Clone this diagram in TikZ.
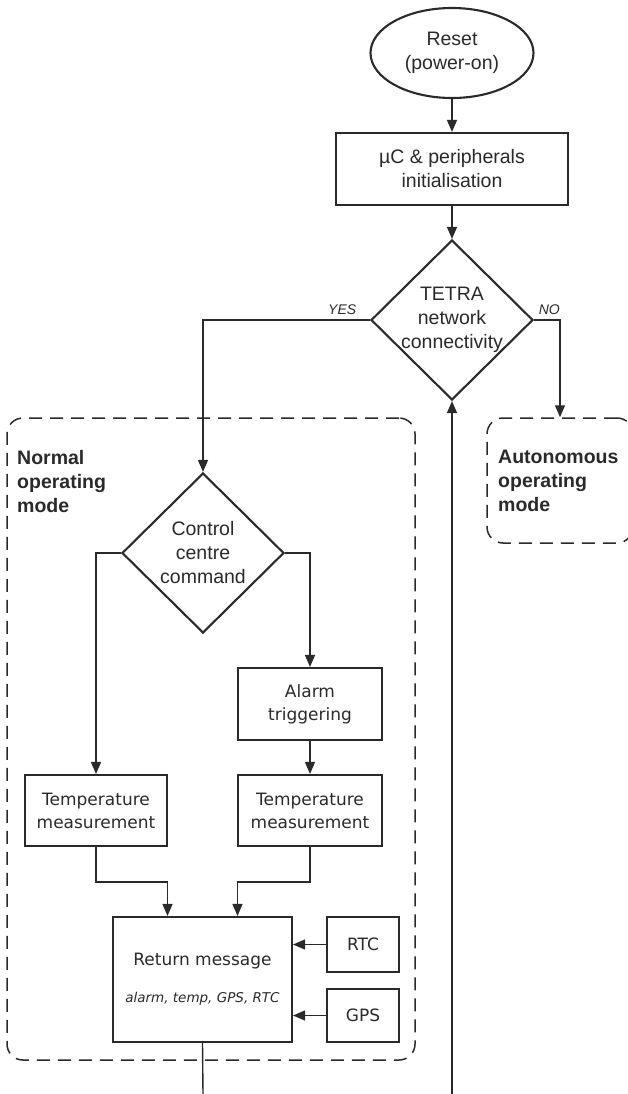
\documentclass[tikz,border=0pt]{standalone}
\usepackage{fontspec}
\setmainfont{Liberation Sans}
\newfontfamily\verdfont{DejaVu Sans}
\usetikzlibrary{shapes.geometric,arrows.meta}

\definecolor{dgrey}{HTML}{2A2A2A}

\tikzset{
    ln/.style={draw=dgrey, line width=1.4pt},
    flow/.style={ln, -{Triangle[length=12pt,width=10pt]}},
    arialtxt/.style={font=\fontsize{19.5}{24}\selectfont, text=dgrey},
    verdtxt/.style={font=\verdfont\fontsize{17}{23}\selectfont, text=dgrey},
    stepbox/.style={rectangle, draw=dgrey, line width=2.1pt, inner sep=0pt, align=center},
    startbox/.style={ellipse, draw=dgrey, line width=2.1pt, inner sep=0pt, align=center, arialtxt,
        minimum width=163, minimum height=90},
    decision/.style={diamond, draw=dgrey, line width=2.1pt, inner sep=-4pt, align=center, arialtxt,
        minimum width=162, minimum height=160},
    modebox/.style={rectangle, draw=dgrey, line width=1.5pt, dash pattern=on 13pt off 8pt,
        rounded corners=16pt},
    modetext/.style={anchor=north west, inner sep=0pt, align=left, text=dgrey,
        font=\bfseries\fontsize{19.5}{24}\selectfont},
    branchlbl/.style={inner sep=0pt, text=dgrey, font=\itshape\fontsize{14}{16}\selectfont}
}

\begin{document}
\begin{tikzpicture}[x=1pt,y=-1pt]
    \useasboundingbox (0,0) rectangle (627,1094);

    % operating modes
    \node[modebox, minimum width=408, minimum height=642] (normal) at (211,739) {};
    \node[modebox, minimum width=146, minimum height=125] (auto) at (560,480.5) {};
    \node[modetext] (normaltxt) at (17,450) {Normal\\operating\\mode};
    \node[modetext] (autotxt) at (498,450) {Autonomous\\operating\\mode};

    % start-up
    \node[startbox] (reset) at (452,53) {Reset\\(power-on)};
    \node[stepbox, arialtxt, minimum width=232, minimum height=72] (init) at (452,169)
        {µC \& peripherals\\initialisation};
    \node[decision] (tetra) at (452,320) {TETRA\\network\\connectivity};

    % normal mode
    \node[decision] (command) at (203,553) {Control\\centre\\command};
    \node[stepbox, verdtxt, minimum width=144, minimum height=72] (alarm) at (310,704) {Alarm\\triggering};
    \node[stepbox, verdtxt, minimum width=142, minimum height=71] (templeft) at (96,810.5)
        {Temperature\\measurement};
    \node[stepbox, verdtxt, minimum width=144, minimum height=71] (tempright) at (310,810.5)
        {Temperature\\measurement};
    \node[stepbox, verdtxt, minimum width=179, minimum height=125] (return) at (202.5,979.5)
        {Return message\\[14pt]{\fontsize{13.5}{16}\itshape alarm, temp, GPS, RTC}};
    \node[stepbox, verdtxt, minimum width=72, minimum height=55] (rtc) at (363,944.5) {RTC};
    \node[stepbox, verdtxt, minimum width=72, minimum height=53] (gps) at (363,1015.5) {GPS};

    \coordinate (loopout) at (203,1094);
    \coordinate (loopin) at (452,1094);

    % connectors
    \draw[flow] (reset) -- (init);
    \draw[flow] (init) -- (tetra);
    \draw[flow] (tetra.west) node[branchlbl, anchor=south east, xshift=-13pt, yshift=5pt] {YES}
        -| (command.north);
    \draw[flow] (tetra.east) node[branchlbl, anchor=south west, xshift=4pt, yshift=5pt] {NO}
        -| (auto.north);
    \draw[flow] (command.west) -| (templeft.north);
    \draw[flow] (command.east) -| (alarm.north);
    \draw[flow] (alarm) -- (tempright);
    \draw[flow] (templeft.south) -- ++(0,35) -| ([xshift=-35pt]return.north);
    \draw[flow] (tempright.south) -- ++(0,35) -| ([xshift=35pt]return.north);
    \draw[flow] (rtc.west) -- (rtc.west -| return.east);
    \draw[flow] (gps.west) -- (gps.west -| return.east);
    \draw[ln] (return.south) -- (loopout);
    \draw[flow] (loopin) -- (tetra.south);
\end{tikzpicture}
\end{document}
